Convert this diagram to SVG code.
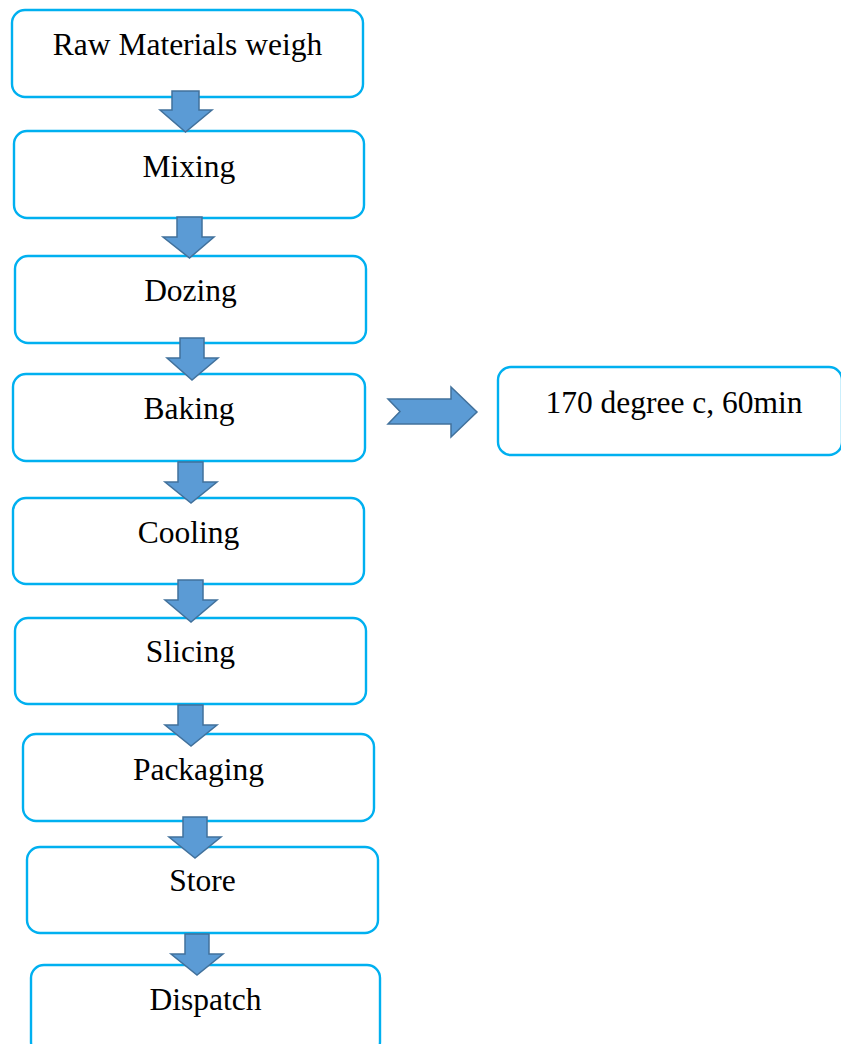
<svg xmlns="http://www.w3.org/2000/svg" width="841" height="1044" viewBox="0 0 841 1044">
<style>
.box{fill:#fff;stroke:#00B0F0;stroke-width:2.4}
.lbl{font-family:'Liberation Serif','DejaVu Serif',serif;font-size:31.5px;fill:#000;text-anchor:middle}
.arr{fill:#5B9BD5;stroke:#41719C;stroke-width:1.5;stroke-linejoin:miter}
</style>
<rect width="841" height="1044" fill="#fff"/>
<g id="n1"><rect class="box" x="12" y="10" width="351" height="87" rx="13"/><text class="lbl" x="187.5" y="55">Raw Materials weigh</text></g>
<g id="n2"><rect class="box" x="14" y="131" width="350" height="87" rx="13"/><text class="lbl" x="189" y="177">Mixing</text></g>
<g id="n3"><rect class="box" x="15" y="256" width="351" height="87" rx="13"/><text class="lbl" x="190.5" y="301">Dozing</text></g>
<g id="n4"><rect class="box" x="13" y="374" width="352" height="87" rx="13"/><text class="lbl" x="189" y="419">Baking</text></g>
<g id="n5"><rect class="box" x="13" y="498" width="351" height="86" rx="13"/><text class="lbl" x="188.5" y="543">Cooling</text></g>
<g id="n6"><rect class="box" x="15" y="618" width="351" height="86" rx="13"/><text class="lbl" x="190.5" y="662">Slicing</text></g>
<g id="n7"><rect class="box" x="23" y="734" width="351" height="87" rx="13"/><text class="lbl" x="198.5" y="780">Packaging</text></g>
<g id="n8"><rect class="box" x="27" y="847" width="351" height="86" rx="13"/><text class="lbl" x="202.5" y="891">Store</text></g>
<g id="n9"><rect class="box" x="31" y="965" width="349" height="90" rx="13"/><text class="lbl" x="205.5" y="1010">Dispatch</text></g>
<g id="n10"><rect class="box" x="498" y="367" width="344" height="88" rx="13"/><text class="lbl" x="674" y="413">170 degree c, 60min</text></g>
<g id="connectors">
<polygon class="arr" points="172,91 199,91 199,110 212,110 185.5,132 160,110 172,110"/>
<polygon class="arr" points="177,217 202,217 202,237 214,237 189.5,258 163,237 177,237"/>
<polygon class="arr" points="180,338 204,338 204,358 218,358 192,380 167,358 180,358"/>
<polygon class="arr" points="178,462 203,462 203,482 217,482 191,503 165,482 178,482"/>
<polygon class="arr" points="178,580 203,580 203,600 217,600 191,622 165,600 178,600"/>
<polygon class="arr" points="178,705 203,705 203,725 217,725 191,746 165,725 178,725"/>
<polygon class="arr" points="183,817 207,817 207,837 221,837 195,858 169,837 183,837"/>
<polygon class="arr" points="185,934 209,934 209,954 223,954 197,975 171,954 185,954"/>
<polygon class="arr" points="388,399 451,399 451,387 477,412 451,437 451,424 388,424 400,411.5"/>
</g>
</svg>
